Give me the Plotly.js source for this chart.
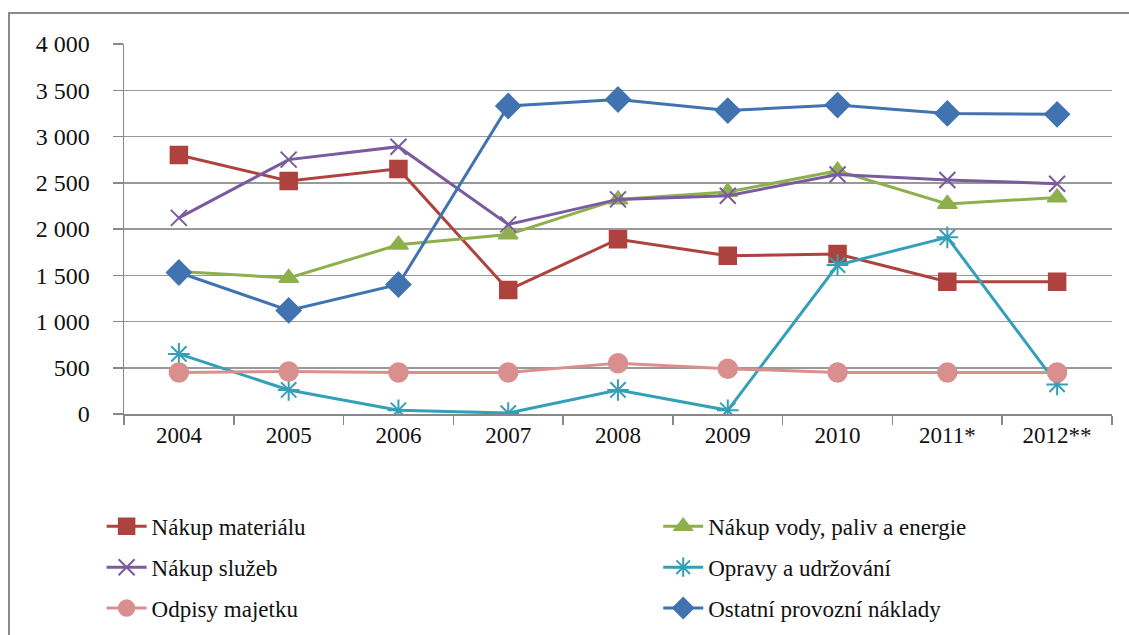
<!DOCTYPE html>
<html>
<head>
<meta charset="utf-8">
<script src="https://cdn.plot.ly/plotly-3.0.1.min.js"></script>
<style>
html,body{margin:0;padding:0;background:#fff;overflow:hidden;}
#frame{position:absolute;left:8px;top:12px;width:1300px;height:800px;border-left:2px solid #8a8a8a;border-top:2px solid #8a8a8a;}
#chart{position:absolute;left:0;top:0;width:1129px;height:635px;}
</style>
</head>
<body>
<div id="frame"></div>
<div id="chart"></div>
<script>
const years = ["2004","2005","2006","2007","2008","2009","2010","2011*","2012**"];
const nakupMaterialu = [2800, 2520, 2650, 1340, 1890, 1710, 1730, 1430, 1430];
const nakupVody = [1540, 1470, 1830, 1940, 2320, 2400, 2630, 2270, 2340];
const nakupSluzeb = [2120, 2750, 2890, 2050, 2320, 2360, 2590, 2530, 2490];
const opravy = [650, 260, 40, 10, 260, 40, 1610, 1910, 320];
const odpisy = [450, 460, 450, 450, 550, 490, 450, 450, 450];
const ostatni = [1530, 1120, 1400, 3330, 3400, 3280, 3340, 3250, 3240];
const names = ["Nákup materiálu","Nákup vody, paliv a energie","Nákup služeb","Opravy a udržování","Odpisy majetku","Ostatní provozní náklady"];

function tr(y, name, color, symbol, size, legend, open) {
  return {
    x: years, y: y, name: name, type: 'scatter', mode: 'lines+markers',
    legend: legend, legendgroup: name,
    line: {color: color, width: 3},
    marker: {symbol: symbol, size: size, color: color, line: {color: color, width: open ? 2 : 1.5}}
  };
}

const data = [
  tr(nakupMaterialu, names[0], '#AE423E', 'square', 17, 'legend'),
  tr(nakupVody, names[1], '#8DB04C', 'triangle-up', 17, 'legend2'),
  tr(nakupSluzeb, names[2], '#7B5B9F', 'x-thin-open', 16, 'legend', true),
  tr(opravy, names[3], '#33A0B8', 'asterisk-open', 18, 'legend2', true),
  tr(odpisy, names[4], '#D88F8E', 'circle', 19, 'legend'),
  tr(ostatni, names[5], '#4173B0', 'diamond', 19, 'legend2')
];

const fam = 'Times New Roman';
const legFont = {family: fam, size: 23, color: '#111'};

const layout = {
  width: 1129, height: 635,
  paper_bgcolor: 'rgba(0,0,0,0)', plot_bgcolor: 'rgba(0,0,0,0)',
  margin: {l: 124, r: 17, t: 44, b: 221, autoexpand: false},
  font: {family: fam, size: 24, color: '#111'},
  separators: ', ',
  showlegend: true,
  xaxis: {
    type: 'category', tickson: 'boundaries', ticks: 'outside', ticklen: 9, tickcolor: '#888', tickwidth: 1.5,
    showline: true, linecolor: '#888', linewidth: 1.5, showgrid: false, zeroline: false, tickangle: 0,
    tickfont: {family: fam, size: 23, color: '#111'}, range: [-0.5, 8.5], automargin: false
  },
  yaxis: {
    range: [0, 4000], dtick: 500, tickformat: ',d', ticks: 'outside', ticklen: 10, tickcolor: '#888', tickwidth: 1.5,
    showline: true, linecolor: '#888', linewidth: 1.5, showgrid: true, gridcolor: '#999', gridwidth: 1.5,
    zeroline: false, tickfont: {family: fam, size: 24, color: '#111'}, ticklabelstandoff: 18, automargin: false
  },
  legend: {
    xref: 'container', yref: 'container', x: 0.09, y: 0.205, xanchor: 'left', yanchor: 'top',
    orientation: 'v', traceorder: 'grouped', tracegroupgap: 8, font: legFont, itemwidth: 40
  },
  legend2: {
    xref: 'container', yref: 'container', x: 0.583, y: 0.205, xanchor: 'left', yanchor: 'top',
    orientation: 'v', traceorder: 'grouped', tracegroupgap: 8, font: legFont, itemwidth: 40
  }
};

Plotly.newPlot('chart', data, layout, {displayModeBar: false, staticPlot: true});
</script>
</body>
</html>
